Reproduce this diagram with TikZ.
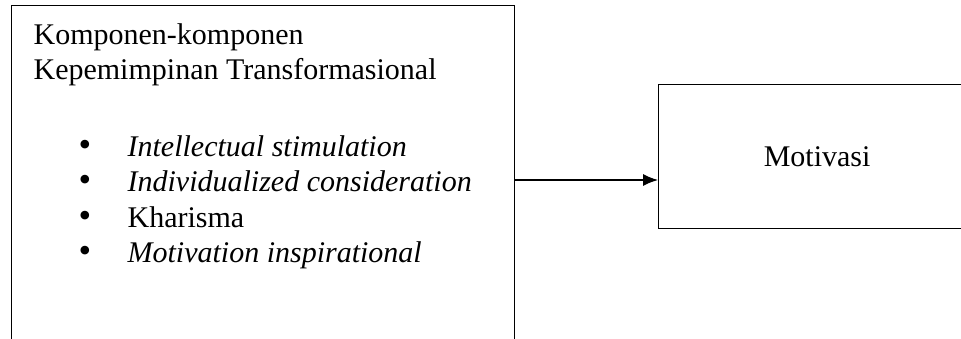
\documentclass[tikz,border=0pt]{standalone}
\usepackage{fontspec}
\setmainfont{Liberation Serif}
\usetikzlibrary{arrows.meta}
\usetikzlibrary{positioning}

\begin{document}
\begin{tikzpicture}[x=0.5pt,y=-0.5pt,line width=0.6pt,
    every node/.style={font=\fontsize{15}{17.5}\selectfont},
    kotak/.style={draw,rectangle,inner sep=0pt,anchor=north west},
    titik/.style={anchor=base,inner sep=0pt,font=\fontsize{18}{18}\selectfont}]
   \useasboundingbox (0,0) rectangle (961,338);
   \clip (0,0) rectangle (961,338);
%% kotak kiri (terpotong di bawah) dan kotak kanan
   \node[kotak,minimum width=251.5pt,minimum height=200pt] (komponen) at (11,5) {};
   \node[kotak,minimum width=158.5pt,minimum height=72pt] (motivasi) at (658,84) {Motivasi};
%% judul
   \node[anchor=base west,inner sep=0pt] (judul1) at (33,44) {Komponen-komponen};
   \node[anchor=base west,inner sep=0pt] (judul2) at (33,79) {Kepemimpinan Transformasional};
%% butir-butir
\foreach \y/\teks [count=\i] in {156/\textit{Intellectual stimulation},
      191/\textit{Individualized consideration}, 227/Kharisma,
      262/\textit{Motivation inspirational}}
   {
   \node[titik] (titik\i) at (85,\y) {\textbullet};
   \node[anchor=base west,inner sep=0pt] (butir\i) at (127,\y) {\teks};
   }
%% panah
   \coordinate (arah) at (600,180);
   \draw[-{Latex[length=7.5pt,width=6pt]}] (komponen.east |- arah) -- (motivasi.west |- arah);
\end{tikzpicture}
\end{document}
